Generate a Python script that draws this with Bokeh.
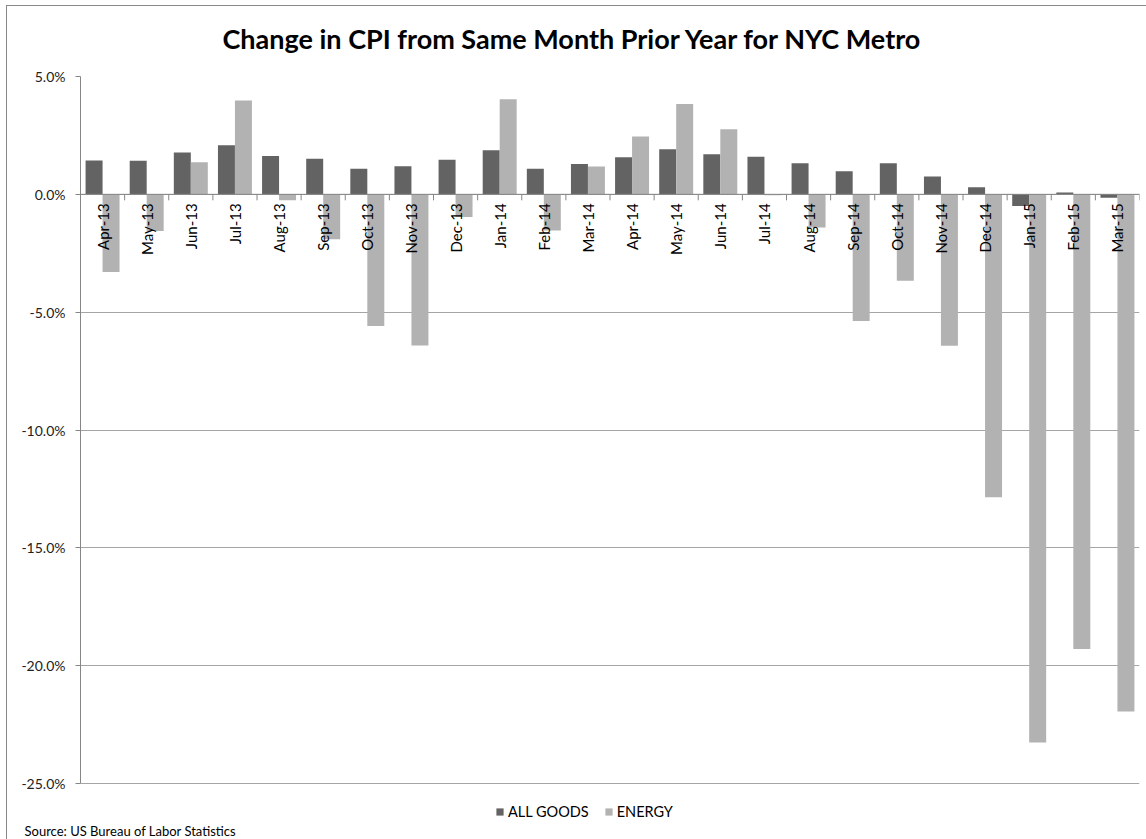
import math
from bokeh.plotting import figure
from bokeh.models import (ColumnDataSource, FactorRange, Range1d, Span, Title,
                          Legend, LegendItem, PrintfTickFormatter, FixedTicker)
from bokeh.transform import dodge
from bokeh.core.properties import value
from bokeh.embed import file_html
from bokeh.resources import INLINE

# ---- data ----
months = ["Apr-13", "May-13", "Jun-13", "Jul-13", "Aug-13", "Sep-13", "Oct-13",
          "Nov-13", "Dec-13", "Jan-14", "Feb-14", "Mar-14", "Apr-14", "May-14",
          "Jun-14", "Jul-14", "Aug-14", "Sep-14", "Oct-14", "Nov-14", "Dec-14",
          "Jan-15", "Feb-15", "Mar-15"]
all_goods = [1.44, 1.43, 1.77, 2.08, 1.63, 1.51, 1.09, 1.19, 1.47, 1.87, 1.09, 1.29,
             1.57, 1.91, 1.70, 1.60, 1.32, 0.98, 1.32, 0.76, 0.30, -0.50, 0.08, -0.14]
energy = [-3.30, -1.56, 1.36, 3.98, -0.25, -1.91, -5.59, -6.41, -0.96, 4.03, -1.53, 1.18,
          2.45, 3.83, 2.76, -0.04, -1.41, -5.37, -3.67, -6.43, -12.85, -23.26, -19.29, -21.94]
y_ticks = [5, 0, -5, -10, -15, -20, -25]
series_names = ["ALL GOODS", "ENERGY"]
TITLE = "Change in CPI from Same Month Prior Year for NYC Metro"
SOURCE = "Source: US Bureau of Labor Statistics"

DARK = "#636363"
LIGHT = "#b2b2b2"
AXIS = "#868686"
GRID = "#a5a5a5"
FONT = "Lato"

# layout (pixels)
W, H = 1146, 839
TOP, LEFT, RIGHT = 76, 80, 7
AXIS_BOTTOM = 783          # pixel row of the lowest tick
FRAME_BOTTOM = 820         # frame reaches below the axis to hold the legend
px_per_unit = (AXIS_BOTTOM - TOP) / (max(y_ticks) - min(y_ticks))
y_start = min(y_ticks) - (FRAME_BOTTOM - AXIS_BOTTOM) / px_per_unit

src = ColumnDataSource(dict(month=months, all_goods=all_goods, energy=energy))

p = figure(width=W, height=H, x_range=FactorRange(*months),
           y_range=Range1d(y_start, max(y_ticks)),
           output_backend="svg", toolbar_location=None, x_axis_location=None,
           min_border_left=LEFT, min_border_right=RIGHT, min_border_top=TOP,
           min_border_bottom=H - FRAME_BOTTOM)
p.outline_line_color = None
p.background_fill_color = "white"
p.border_fill_color = None
p.styles = {"background": "linear-gradient(#888888,#888888) 6px 5px / 1px 100% no-repeat, "
                          "linear-gradient(#888888,#888888) 6px 5px / 100% 1px no-repeat, white"}

# title
p.title.text = TITLE
p.title.align = "left"
p.title.offset = 142
p.title.vertical_align = "top"
p.title.text_font = FONT
p.title.text_font_style = "bold"
p.title.text_font_size = "27px"
p.title.text_color = "black"
p.title.standoff = 40

# grid
p.xgrid.visible = False
p.ygrid.ticker = FixedTicker(ticks=y_ticks)
p.ygrid.grid_line_color = GRID
p.ygrid.grid_line_width = 1

# y axis
p.yaxis.ticker = FixedTicker(ticks=y_ticks)
p.yaxis.bounds = (min(y_ticks), max(y_ticks))
p.yaxis.formatter = PrintfTickFormatter(format="%.1f%%")
p.yaxis.axis_line_color = AXIS
p.yaxis.major_tick_line_color = AXIS
p.yaxis.major_tick_out = 5
p.yaxis.major_tick_in = 0
p.yaxis.minor_tick_line_color = None
p.yaxis.major_label_standoff = 10
p.yaxis.major_label_text_font = FONT
p.yaxis.major_label_text_font_size = "14px"
p.yaxis.major_label_text_color = "#222222"

BAR_W = 0.385
r1 = p.vbar(x=dodge("month", -BAR_W / 2, range=p.x_range), top="all_goods", bottom=0,
            width=BAR_W, source=src, fill_color=DARK, line_color=None)
r2 = p.vbar(x=dodge("month", BAR_W / 2, range=p.x_range), top="energy", bottom=0,
            width=BAR_W, source=src, fill_color=LIGHT, line_color=None)

# zero axis line and category boundary ticks
p.add_layout(Span(location=0, dimension="width", line_color=AXIS, line_width=1))
TICK_LEN = 6 / px_per_unit
p.segment(x0=dodge("month", 0.5, range=p.x_range), y0=0,
          x1=dodge("month", 0.5, range=p.x_range), y1=-TICK_LEN,
          source=src, line_color=AXIS, line_width=1)

# category labels next to the zero axis
p.text(x="month", y=0, text="month", source=src, angle=math.pi / 2,
       text_align="right", text_baseline="middle", y_offset=9,
       text_font=value(FONT), text_font_size="15px", text_color="black")

legend = Legend(items=[LegendItem(label=series_names[0], renderers=[r1]),
                       LegendItem(label=series_names[1], renderers=[r2])],
                location=(415, 0), orientation="horizontal",
                border_line_color=None, background_fill_alpha=0, padding=0, margin=0,
                spacing=15, glyph_width=9, glyph_height=9, label_standoff=4,
                label_height=14, label_text_font=FONT,
                label_text_font_size="14.5px", label_text_color="black",
                label_text_baseline="middle")
p.add_layout(legend)

src_title = Title(text=SOURCE, align="left", offset=-56, text_font=FONT,
                  text_font_size="13px", text_font_style="normal", text_color="black",
                  standoff=0)
p.add_layout(src_title, "below")

open("out.html", "w").write(file_html(p, INLINE))
